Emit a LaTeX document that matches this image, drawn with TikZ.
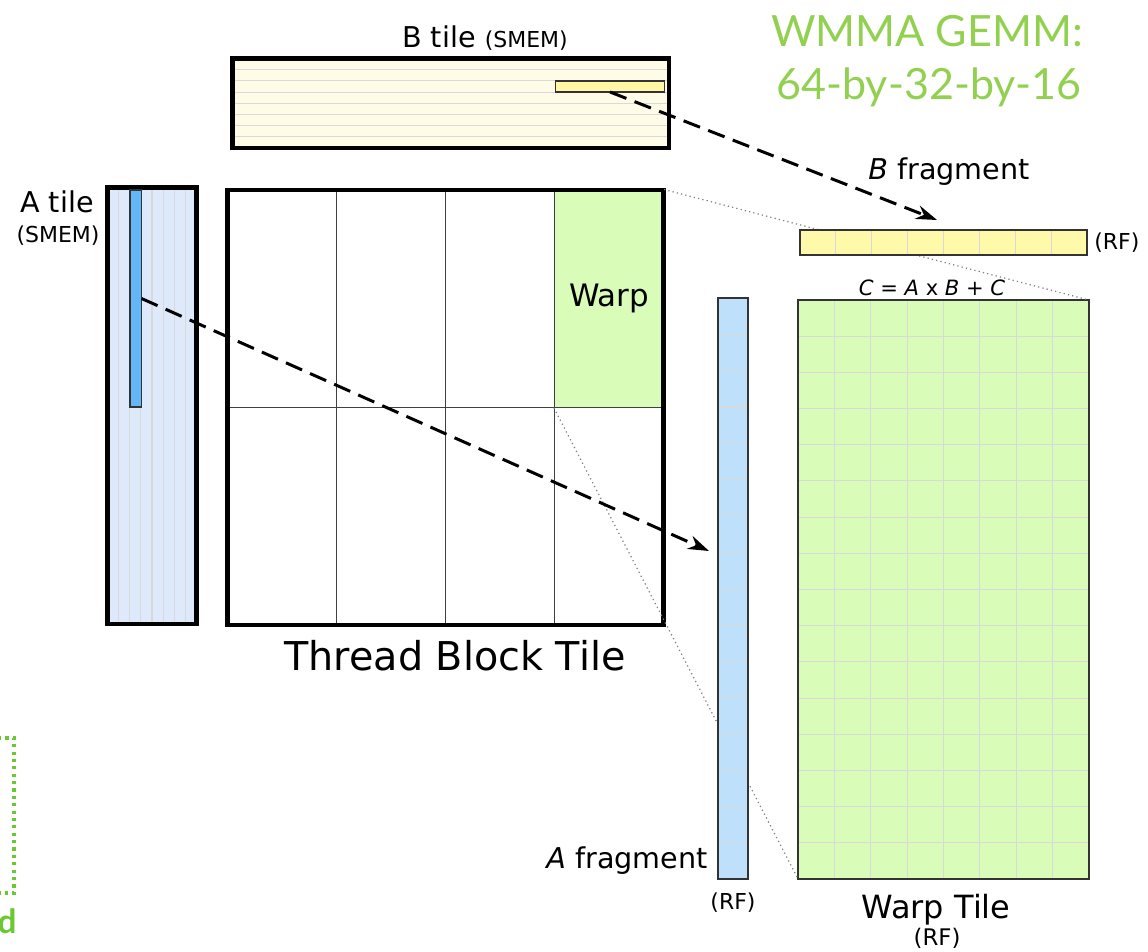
\documentclass[tikz,border=0pt]{standalone}
\usepackage{fontspec}
\setmainfont{DejaVu Sans}
\newfontfamily\titlefont{Lato}
\usetikzlibrary{calc,arrows.meta}

\definecolor{tileyellow}{HTML}{FEFCE6}
\definecolor{fragyellow}{HTML}{FFF7A4}
\definecolor{rfyellow}{HTML}{FFFAAA}
\definecolor{tileblue}{HTML}{DEE9FC}
\definecolor{fragblue}{HTML}{63B7F7}
\definecolor{rfblue}{HTML}{BEE0FB}
\definecolor{warpgreen}{HTML}{D9FCB9}
\definecolor{titlegreen}{HTML}{92D050}
\definecolor{framegreen}{HTML}{6CC832}

\newcommand{\fsz}[1]{\fontsize{#1}{1.2\dimexpr#1pt\relax}\selectfont}

\begin{document}
\begin{tikzpicture}[x=0.02cm, y=-0.02cm,
  tile/.style={draw=black, line width=2.8pt, inner sep=0pt, outer sep=0pt},
  box/.style={draw=black!80, line width=1.1pt, inner sep=0pt, outer sep=0pt},
  cellline/.style={draw=black!15, line width=0.6pt},
  cells/.style 2 args={path picture={
    \foreach \k in {1,...,#1}{\ifnum\k<#1
      \draw[cellline] ($(path picture bounding box.north west)!\k/#1!(path picture bounding box.north east)$)
        -- ($(path picture bounding box.south west)!\k/#1!(path picture bounding box.south east)$);\fi}
    \foreach \k in {1,...,#2}{\ifnum\k<#2
      \draw[cellline] ($(path picture bounding box.north west)!\k/#2!(path picture bounding box.south west)$)
        -- ($(path picture bounding box.north east)!\k/#2!(path picture bounding box.south east)$);\fi}
  }},
  proj/.style={draw=black!50, line width=0.7pt, dash pattern=on 0.7pt off 1.8pt},
  load/.style={draw=black, line width=1.7pt, dash pattern=on 10pt off 5pt,
    -{Stealth[length=12pt, width=8pt, inset=4pt]}},
  lbl/.style={inner sep=0pt, font=\fsz{16.3}},
  rf/.style={inner sep=0pt, font=\fsz{12.5}}]
  \useasboundingbox (0,0) rectangle (1148,952);

  % shared memory tiles
  \node[tile, fill=tileyellow, cells={1}{8}, minimum width=8.73cm, minimum height=1.79cm] (btile) at (450.75,103.25) {};
  \node[box, line width=0.9pt, fill=fragyellow, minimum width=2.18cm, minimum height=0.22cm] (bsub) at (610,86.5) {};
  \node[tile, fill=tileblue, cells={8}{1}, minimum width=1.78cm, minimum height=8.73cm] (atile) at (152,405.75) {};
  \node[box, line width=0.9pt, fill=fragblue, minimum width=0.23cm, minimum height=4.34cm] (asub) at (135.75,298.5) {};

  % thread block tile
  \node[draw=black!70, line width=0.6pt, fill=warpgreen, inner sep=0pt, minimum width=2.18cm, minimum height=4.35cm,
    font=\fsz{17.6}] (warp) at (609,298.75) {Warp};
  \node[tile, cells={4}{2}, cellline/.style={draw=black!75, line width=0.6pt},
    minimum width=8.72cm, minimum height=8.70cm] (block) at (445.5,407.5) {};

  % register file
  \node[box, fill=warpgreen, cells={8}{16}, minimum width=5.82cm, minimum height=11.58cm] (wtile) at (943.5,589.5) {};
  \draw[proj] (warp.north east) -- (wtile.north east);
  \draw[proj] (warp.south west) -- (wtile.south west);
  \node[box, fill=rfyellow, cells={8}{1}, minimum width=5.74cm, minimum height=0.5cm] (brf) at (943.5,242.5) {};
  \node[box, fill=rfblue, cells={1}{16}, minimum width=0.6cm, minimum height=11.62cm] (arf) at (733,588.5) {};

  \coordinate (bhead) at (937,220);
  \coordinate (ahead) at (709,551);
  \draw[load] (bsub.south) -- (bhead);
  \draw[load] (asub.east) -- (ahead);

  % labels
  \node[lbl, anchor=base] (btilelbl) at (485,48) {B tile {\fsz{12.5}(SMEM)}};
  \node[lbl, anchor=base] (atilelbl) at (57,213) {A tile};
  \node[rf, anchor=base] (atilemem) at (58,243) {(SMEM)};
  \node[inner sep=0pt, anchor=base, font=\fsz{22.6}] (blocklbl) at (455,670) {Thread Block Tile};
  \node[lbl, anchor=base] (bfraglbl) at (949,180) {\textit{B} fragment};
  \node[rf, anchor=west] (brfrf) at (1094,243) {(RF)};
  \node[inner sep=0pt, anchor=base, font=\fsz{12}] (eqlbl) at (932,296) {\textit{C} = \textit{A} x \textit{B} + \textit{C}};
  \node[lbl, anchor=base east] (afraglbl) at (708,868) {\textit{A} fragment};
  \node[rf] (arfrf) at (733,903) {(RF)};
  \node[inner sep=0pt, anchor=base, font=\fsz{18.2}] (wtilelbl) at (936,918) {Warp Tile};
  \node[rf, font=\fsz{13}] (wtilerf) at (937,938) {(RF)};

  % title
  \node[inner sep=0pt, anchor=base, text=titlegreen, font=\titlefont\fsz{24.5}] (title) at (927,47) {WMMA GEMM:};
  \node[inner sep=0pt, anchor=base, text=titlegreen, font=\titlefont\fsz{24.5}] (subtitle) at (929,100) {64-by-32-by-16};

  % cut-off frame at the left edge
  \draw[framegreen, line width=1.8pt, dash pattern=on 1.8pt off 2.4pt] (-2,738) -- (14,738) -- (14,893) -- (-2,893);
  \node[inner sep=0pt, anchor=base east, text=framegreen, font=\titlefont\bfseries\fsz{19}] (cutlbl) at (17,933) {d};
\end{tikzpicture}
\end{document}
